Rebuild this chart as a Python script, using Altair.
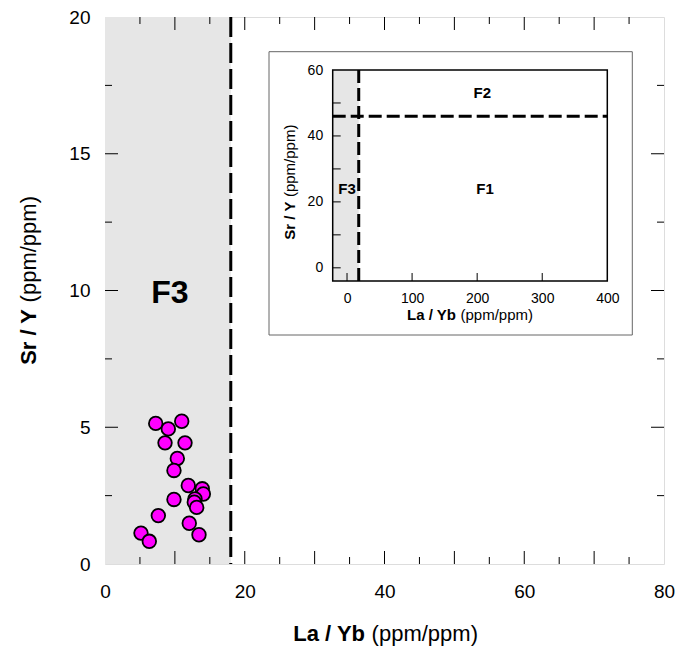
import altair as alt
import pandas as pd

FONT = "Liberation Sans"

# ---------------- data ----------------
la_yb = [7.26, 9.06, 10.98, 8.59, 11.45, 10.35, 9.87, 11.92, 13.92, 14.07,
         12.88, 12.78, 13.12, 9.87, 7.63, 12.06, 13.45, 5.15, 6.34]
sr_y = [5.14, 4.94, 5.22, 4.43, 4.43, 3.86, 3.42, 2.87, 2.75, 2.56,
        2.38, 2.26, 2.07, 2.36, 1.77, 1.49, 1.07, 1.13, 0.83]

F3_LIMIT_LAYB = 18
F2_LIMIT_SRY = 46

main_x_domain = [0, 80]
main_y_domain = [0, 20]
main_x_labels = [0, 20, 40, 60, 80]
main_y_labels = [0, 5, 10, 15, 20]
main_x_major = [10, 20, 30, 40, 50, 60, 70]
main_x_minor = [5, 15, 25, 35, 45, 55, 65, 75]
main_y_major = [5, 10, 15]
main_y_minor = [2.5, 7.5, 12.5, 17.5]

inset_x_domain = [-22, 400]
inset_y_domain = [-4, 60]
inset_x_labels = [0, 100, 200, 300, 400]
inset_y_labels = [0, 20, 40, 60]
inset_x_ticks = [0, 100, 200, 300]
inset_y_ticks = [0, 10, 20, 30, 40, 50]

region_names = ["F1", "F2", "F3"]
region_x = [212, 208, 0]
region_y = [24, 53, 24]

main_label = ["F3"]
main_label_x = [9.3]
main_label_y = [9.9]

# ---------------- layout (pixels, relative to plot origin) ----------------
W, H = 559, 547
MAJ, MIN = 13, 7
INSET_BOX = (164, 527.3, 34.7, 318)
INSET_PLOT = (227.7, 502.3, 53, 264)
ITICK = 8

# ---------------- main panel ----------------
xs = alt.Scale(domain=main_x_domain, nice=False, zero=False)
ys = alt.Scale(domain=main_y_domain, nice=False, zero=False)
xaxis = alt.Axis(values=main_x_labels, ticks=False, domain=False, grid=False,
                 labelFontSize=19, labelPadding=18, labelFlush=False,
                 labelOverlap=False, title=None, labelColor="black", labelFont=FONT,
                 orient="bottom")
yaxis = alt.Axis(values=main_y_labels, ticks=False, domain=False, grid=False,
                 labelFontSize=19, labelPadding=15, labelOverlap=False,
                 title=None, labelColor="black", labelFont=FONT, orient="left")

shade = alt.Chart(pd.DataFrame({"x0": [main_x_domain[0]], "x1": [F3_LIMIT_LAYB],
                                "y0": [main_y_domain[0]], "y1": [main_y_domain[1]]})).mark_rect(
    fill="#e6e6e6").encode(
    x=alt.X("x0:Q", scale=xs, axis=xaxis), x2="x1:Q",
    y=alt.Y("y0:Q", scale=ys, axis=yaxis), y2="y1:Q")

vline = alt.Chart(pd.DataFrame({"x": [F3_LIMIT_LAYB]})).mark_rule(
    color="black", strokeWidth=3, strokeDash=[20, 6]).encode(x="x:Q")

def xticks(vals, length):
    d = pd.DataFrame({"v": vals})
    b = alt.Chart(d).mark_rule(color="black", strokeWidth=1).encode(
        x="v:Q", y=alt.value(H), y2=alt.value(H - length))
    t = alt.Chart(d).mark_rule(color="black", strokeWidth=1).encode(
        x="v:Q", y=alt.value(0), y2=alt.value(length))
    return [b, t]

def yticks(vals, length):
    d = pd.DataFrame({"v": vals})
    l = alt.Chart(d).mark_rule(color="black", strokeWidth=1).encode(
        y="v:Q", x=alt.value(0), x2=alt.value(length))
    r = alt.Chart(d).mark_rule(color="black", strokeWidth=1).encode(
        y="v:Q", x=alt.value(W), x2=alt.value(W - length))
    return [l, r]

tick_layers = (xticks(main_x_major, MAJ) + xticks(main_x_minor, MIN)
               + yticks(main_y_major, MAJ) + yticks(main_y_minor, MIN))

points = alt.Chart(pd.DataFrame({"La/Yb": la_yb, "Sr/Y": sr_y})).mark_circle(
    size=185, color="#ff00ff", opacity=1, stroke="black", strokeWidth=1.8).encode(
    x="La/Yb:Q", y="Sr/Y:Q")

f3 = alt.Chart(pd.DataFrame({"t": main_label, "x": main_label_x, "y": main_label_y})).mark_text(
    font=FONT, fontSize=32, fontWeight="bold", color="black").encode(
    x="x:Q", y="y:Q", text="t:N")

one = pd.DataFrame({"a": [0]})

def title_pair(bold, regular, x, y, size, angle=0):
    # bold part ends at anchor, regular part starts just after it
    gap = size * 0.3
    if angle == 0:
        b = alt.Chart(one).mark_text(text=bold, font=FONT, fontSize=size, fontWeight="bold",
                                     align="right", baseline="alphabetic", color="black").encode(
            x=alt.value(x), y=alt.value(y))
        r = alt.Chart(one).mark_text(text=regular, font=FONT, fontSize=size,
                                     align="left", baseline="alphabetic", color="black").encode(
            x=alt.value(x + gap), y=alt.value(y))
    else:
        b = alt.Chart(one).mark_text(text=bold, font=FONT, fontSize=size, fontWeight="bold",
                                     align="right", baseline="alphabetic", angle=270,
                                     color="black").encode(
            x=alt.value(x), y=alt.value(y))
        r = alt.Chart(one).mark_text(text=regular, font=FONT, fontSize=size,
                                     align="left", baseline="alphabetic", angle=270,
                                     color="black").encode(
            x=alt.value(x), y=alt.value(y - gap))
    return [b, r]

main_titles = (title_pair("La / Yb", "(ppm/ppm)", 260, 624, 22)
               + title_pair("Sr / Y", "(ppm/ppm)", -69, 292, 22, angle=270))

main = alt.layer(shade, vline, *tick_layers, points, f3, *main_titles)

# ---------------- inset panel ----------------
ixs = alt.Scale(domain=inset_x_domain, range=[INSET_PLOT[0], INSET_PLOT[1]], nice=False, zero=False)
iys = alt.Scale(domain=inset_y_domain, range=[INSET_PLOT[3], INSET_PLOT[2]], nice=False, zero=False)
ixaxis = alt.Axis(values=inset_x_labels, ticks=False, domain=False, grid=False,
                  labelFontSize=14, labelPadding=10, labelFlush=False, labelOverlap=False,
                  title=None, labelColor="black", labelFont=FONT, orient="bottom",
                  offset=-(H - INSET_PLOT[3]), zindex=2)
iyaxis = alt.Axis(values=inset_y_labels, ticks=False, domain=False, grid=False,
                  labelFontSize=14, labelPadding=10, labelOverlap=False,
                  title=None, labelColor="black", labelFont=FONT, orient="left",
                  offset=-INSET_PLOT[0], zindex=2)

box = alt.Chart(one).mark_rect(fill="white", stroke="#666666", strokeWidth=1).encode(
    x=alt.value(INSET_BOX[0]), x2=alt.value(INSET_BOX[1]),
    y=alt.value(INSET_BOX[2]), y2=alt.value(INSET_BOX[3]))

ishade = alt.Chart(pd.DataFrame({"x0": [inset_x_domain[0]], "x1": [F3_LIMIT_LAYB],
                                 "y0": [inset_y_domain[0]], "y1": [inset_y_domain[1]]})).mark_rect(
    fill="#e6e6e6").encode(
    x=alt.X("x0:Q", scale=ixs, axis=ixaxis), x2="x1:Q",
    y=alt.Y("y0:Q", scale=iys, axis=iyaxis), y2="y1:Q")

iframe = alt.Chart(pd.DataFrame({"x0": [inset_x_domain[0]], "x1": [inset_x_domain[1]],
                                 "y0": [inset_y_domain[0]], "y1": [inset_y_domain[1]]})).mark_rect(
    fill=None, stroke="black", strokeWidth=1.5).encode(
    x="x0:Q", x2="x1:Q", y="y0:Q", y2="y1:Q")

ivline = alt.Chart(pd.DataFrame({"x": [F3_LIMIT_LAYB], "y0": [inset_y_domain[0]],
                                 "y1": [inset_y_domain[1]]})).mark_rule(
    color="black", strokeWidth=3, strokeDash=[13, 5]).encode(x="x:Q", y="y0:Q", y2="y1:Q")

ihline = alt.Chart(pd.DataFrame({"y": [F2_LIMIT_SRY], "x0": [inset_x_domain[0]],
                                 "x1": [inset_x_domain[1]]})).mark_rule(
    color="black", strokeWidth=3, strokeDash=[13, 5]).encode(y="y:Q", x="x0:Q", x2="x1:Q")

ixt = alt.Chart(pd.DataFrame({"v": inset_x_ticks})).mark_rule(color="black", strokeWidth=1).encode(
    x="v:Q", y=alt.value(INSET_PLOT[3]), y2=alt.value(INSET_PLOT[3] - ITICK))
iyt = alt.Chart(pd.DataFrame({"v": inset_y_ticks})).mark_rule(color="black", strokeWidth=1).encode(
    y="v:Q", x=alt.value(INSET_PLOT[0]), x2=alt.value(INSET_PLOT[0] + ITICK))

iregions = alt.Chart(pd.DataFrame({"t": region_names, "x": region_x, "y": region_y})).mark_text(
    font=FONT, fontSize=15, fontWeight="bold", color="black").encode(
    x="x:Q", y="y:Q", text="t:N")

inset_titles = (title_pair("La / Yb", "(ppm/ppm)", 351, 303, 15)
                + title_pair("Sr / Y", "(ppm/ppm)", 190, 184.6, 15, angle=270))

inset = alt.layer(box, ishade, ivline, ihline, iframe, ixt, iyt, iregions, *inset_titles)

chart = alt.layer(main, inset).resolve_scale(x="independent", y="independent").properties(
    width=W, height=H,
    autosize=alt.AutoSizeParams(type="none"),
    padding={"left": 97, "top": 9, "right": 21, "bottom": 85},
).configure_view(stroke="black", strokeWidth=1.5).configure(background="white")

chart.save("out.html", embed_options={"renderer": "svg", "actions": False})
